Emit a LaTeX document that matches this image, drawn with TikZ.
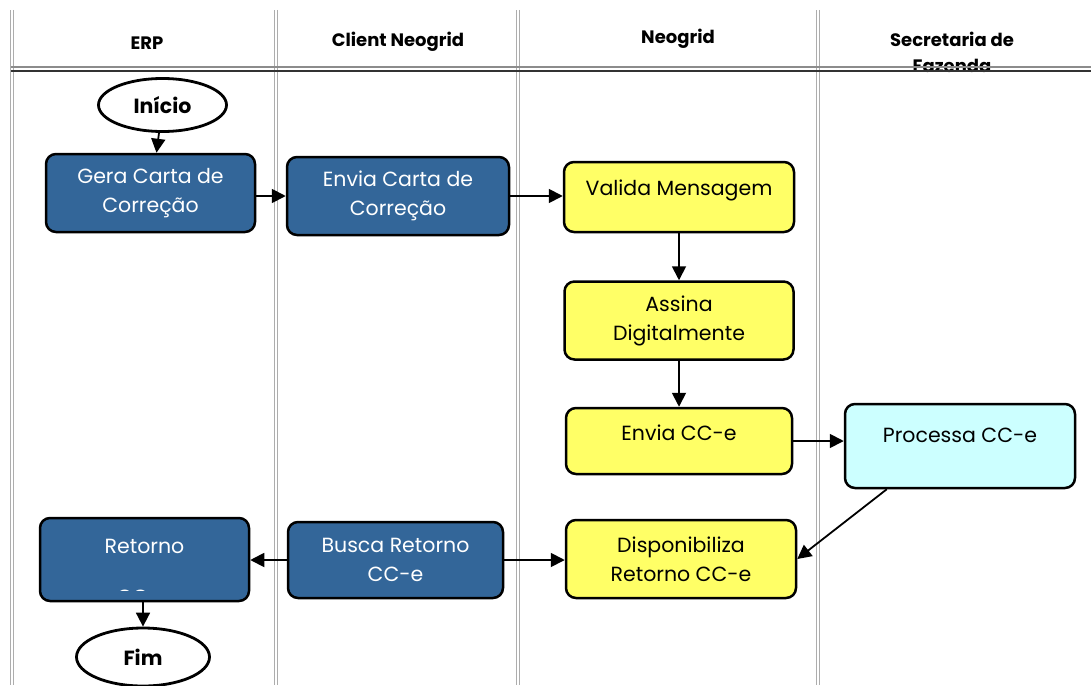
\documentclass[tikz,border=0pt]{standalone}
\usepackage{fontspec}
\setmainfont{Poppins}
\usepackage{tikz}
\usetikzlibrary{positioning}
\usetikzlibrary{arrows.meta,shapes.geometric}

\definecolor{erpblue}{RGB}{51,102,153}
\definecolor{ngyellow}{RGB}{255,255,102}
\definecolor{sefcyan}{RGB}{204,255,255}

\tikzset{
  box/.style={draw, line width=2.5pt, rounded corners=10pt, align=center,
    inner sep=0pt, font=\fontsize{20.5}{29}\selectfont},
  bluebox/.style={box, fill=erpblue, text=white},
  ylwbox/.style={box, fill=ngyellow},
  cyanbox/.style={box, fill=sefcyan},
  term/.style={draw, ellipse, line width=2.8pt, fill=white, inner sep=0pt,
    font=\fontsize{20.5}{24}\selectfont\bfseries},
  flow/.style={-{Triangle[length=14pt,width=14pt]}, line width=1.8pt},
  lane/.style={draw=black!32, double=white, double distance=2pt, line width=1.1pt},
  hdr/.style={font=\fontsize{18}{26}\selectfont\bfseries, align=center},
}

\begin{document}
\begin{tikzpicture}[x=1pt,y=-1pt]
\useasboundingbox (0,0) rectangle (1091,685);

\foreach \lx in {12,276,518,818}
  \draw[lane] (\lx,10) -- (\lx,685);

\node[hdr, anchor=base] (herp) at (147,49) {ERP};
\node[hdr, anchor=base] (hclient) at (398,46) {Client Neogrid};
\node[hdr, anchor=base] (hneo) at (678,44) {Neogrid};
\node[hdr, anchor=base] (hsef) at (952,72) {Secretaria de\\Fazenda};

\draw[black!45, line width=1.2pt] (11,67) -- (1091,67);
\draw[black!80, line width=1.4pt] (11,71) -- (1091,71);

\node[term, minimum width=128pt, minimum height=53pt] (ini) at (162.5,105) {Início};
\node[bluebox, minimum width=209pt, minimum height=78pt] (gera) at (150.5,193) {Gera Carta de\\Correção};
\node[bluebox, minimum width=222pt, minimum height=78pt] (envia) at (398,196) {Envia Carta de\\Correção};

\node[ylwbox, minimum width=230pt, minimum height=70pt, text height=15pt, text depth=19pt] (valida) at (679,197) {Valida Mensagem};
\node[ylwbox, minimum width=229pt, minimum height=78pt, below=47pt of valida] (assina) {Assina\\Digitalmente};
\node[ylwbox, minimum width=226pt, minimum height=66pt, text height=15pt, text depth=17pt, below=46pt of assina] (envcce) {Envia CC-e};
\node[cyanbox, minimum width=230pt, minimum height=84pt, text height=15pt, text depth=23pt] (proc) at (960,446) {Processa CC-e};
\node[ylwbox, minimum width=230pt, minimum height=78pt] (disp) at (681,559) {Disponibiliza\\Retorno CC-e};

\node[bluebox, minimum width=215pt, minimum height=76pt] (busca) at (395.5,560) {Busca Retorno\\CC-e};
\node[bluebox, minimum width=209pt, minimum height=83pt, text height=15pt, text depth=28pt] (ret) at (144.5,559.5) {Retorno};
\begin{scope}
\clip (ret.north west) rectangle ([yshift=12pt]ret.south east);
\node[font=\fontsize{20.5}{29}\selectfont, text=white, anchor=base] (retcc) at (144.5,604) {CC-e};
\end{scope}
\node[term, minimum width=133pt, minimum height=58pt] (fim) at (143,657) {Fim};

\draw[flow] (ini) -- ([xshift=6pt]gera.north);
\draw[flow] (gera.east |- envia.west) -- (envia.west);
\draw[flow] (envia.east) -- (envia.east -| valida.west);
\draw[flow] (valida.south) -- (valida.south |- assina.north);
\draw[flow] (assina) -- (envcce);
\draw[flow] (envcce.east) -- (envcce.east -| proc.west);
\draw[flow] ([xshift=43pt]proc.south west) -- (disp.east);
\draw[flow] (busca.east) -- (busca.east -| disp.west);
\draw[flow] (busca.west) -- (busca.west -| ret.east);
\draw[flow] (ret.south -| fim.north) -- (fim.north);
\end{tikzpicture}
\end{document}
